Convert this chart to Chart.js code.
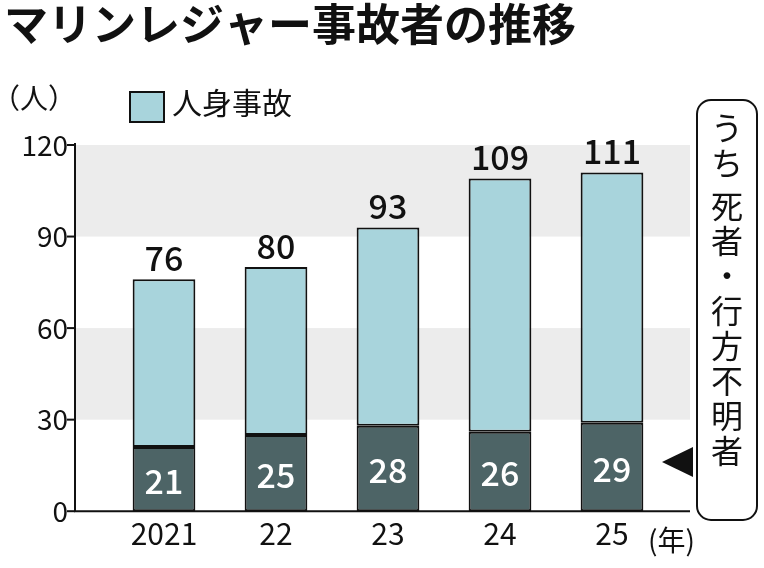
<!DOCTYPE html>
<html><head><meta charset="utf-8">
<script src="https://cdn.jsdelivr.net/npm/chart.js@4"></script>
<style>html,body{margin:0;padding:0;background:#fff}#c{display:block}</style>
</head><body>
<div style="width:764px;height:568px"><canvas id="c" width="764" height="568"></canvas></div>
<script>
const categories = ["2021","22","23","24","25"];
const totals = [76, 80, 93, 109, 111];
const deaths = [21, 25, 28, 26, 29];
const yTicks = [0, 30, 60, 90, 120];
const FONT = "'Noto Sans CJK JP','DejaVu Sans',sans-serif";
const others = totals.map((t,i)=>t-deaths[i]);
const AXX = 75;

const deco = {
  id:'deco',
  beforeDatasetsDraw(ch){
    const {ctx, chartArea:a, scales:{y}} = ch;
    ctx.save();
    ctx.fillStyle = '#ececec';
    [[30,60],[90,120]].forEach(([lo,hi])=>{
      ctx.fillRect(AXX, y.getPixelForValue(hi), 690-AXX, y.getPixelForValue(lo)-y.getPixelForValue(hi));
    });
    ctx.restore();
  },
  afterDraw(ch){
    const {ctx, chartArea:a, scales:{x,y}} = ch;
    ctx.save();
    // axes
    ctx.strokeStyle='#111'; ctx.lineWidth=2;
    ctx.beginPath(); ctx.moveTo(AXX, y.getPixelForValue(120)-2); ctx.lineTo(AXX, y.getPixelForValue(0)); ctx.lineTo(690, y.getPixelForValue(0)); ctx.stroke();
    yTicks.forEach(v=>{ const p=y.getPixelForValue(v); ctx.beginPath(); ctx.moveTo(AXX-8,p); ctx.lineTo(AXX,p); ctx.stroke(); });
    ctx.fillStyle='#111';
    ctx.font = "bold 44px "+FONT;
    ctx.textBaseline='top';
    ctx.fillText("マリンレジャー事故者の推移", 4, 2);
    ctx.font = "28px "+FONT;
    ctx.fillText("（人）", -8, 84);
    ctx.fillStyle='#a8d4dc'; ctx.strokeStyle='#111'; ctx.lineWidth=2;
    ctx.fillRect(130,92,34,30); ctx.strokeRect(130,92,34,30);
    ctx.fillStyle='#111'; ctx.font="30px "+FONT;
    ctx.fillText("人身事故", 172, 88);
    ctx.textAlign='center';
    ctx.font = "500 34px "+FONT;
    ctx.textBaseline='bottom';
    totals.forEach((t,i)=>{ ctx.fillStyle='#111'; ctx.fillText(String(t), x.getPixelForValue(i), y.getPixelForValue(t)-4); });
    ctx.textBaseline='middle';
    deaths.forEach((d,i)=>{ ctx.fillStyle='#fff'; ctx.fillText(String(d), x.getPixelForValue(i), (y.getPixelForValue(0)+y.getPixelForValue(d))/2+2); });
    ctx.fillStyle='#111'; ctx.font="28px "+FONT; ctx.textAlign='left'; ctx.textBaseline='top';
    ctx.fillText("(年)", 648, 526);
    ctx.strokeStyle='#111'; ctx.lineWidth=2;
    ctx.beginPath(); ctx.roundRect(697,100,60,420,14); ctx.fillStyle='#fff'; ctx.fill(); ctx.stroke();
    ctx.fillStyle='#111'; ctx.font="32px "+FONT; ctx.textAlign='center'; ctx.textBaseline='middle';
    const chars = ["う","ち","","死","者","・","行","方","不","明","者"];
    let yy=128;
    chars.forEach(c=>{ if(c) ctx.fillText(c,727,yy); yy += c? 35: 8; });
    ctx.beginPath(); ctx.moveTo(662,462); ctx.lineTo(693,447); ctx.lineTo(693,477); ctx.closePath(); ctx.fill();
    ctx.restore();
  }
};

new Chart(document.getElementById('c'), {
  type:'bar',
  data:{labels:categories, datasets:[
    {data:deaths, backgroundColor:'#4d6466', borderColor:'#111', borderWidth:2, borderSkipped:false},
    {data:others, backgroundColor:'#a8d4dc', borderColor:'#111', borderWidth:2, borderSkipped:false}
  ]},
  options:{
    responsive:false, animation:false,
    layout:{padding:{top:145, right:96, left:0, bottom:0}},
    plugins:{legend:{display:false}, tooltip:{enabled:false}},
    datasets:{bar:{categoryPercentage:1, barPercentage:0.56}},
    scales:{
      x:{stacked:true, grid:{display:false, drawTicks:false}, border:{display:false},
         ticks:{color:'#111', font:{size:30, family:FONT}, padding:4},
         afterFit(s){ s.height=50; }},
      y:{stacked:true, min:0, max:120, afterBuildTicks(s){ s.ticks=yTicks.map(v=>({value:v})); },
         grid:{display:false, drawTicks:false},
         border:{display:false},
         ticks:{color:'#111', font:{size:28, family:FONT}, padding:40},
         afterFit(s){ s.width=108; }}
    }
  },
  plugins:[deco]
});
</script>
</body></html>
